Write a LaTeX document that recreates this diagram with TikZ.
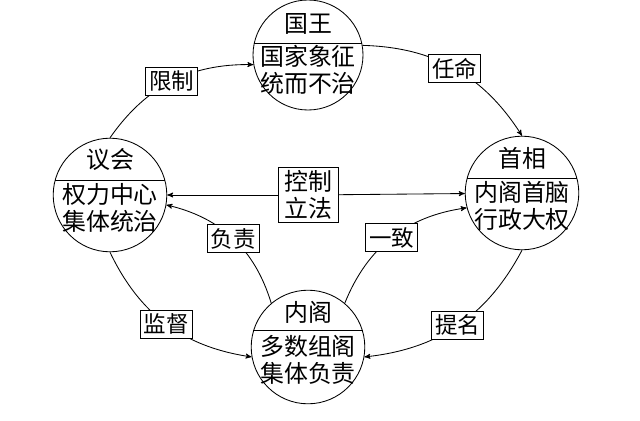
\documentclass[tikz,border=0pt]{standalone}
\usepackage{fontspec}
\setmainfont{Noto Sans CJK SC}
\usetikzlibrary{arrows}
\begin{document}
\begin{tikzpicture}[->,semithick,>=stealth',font=\Large]
    \tikzstyle{role}=[draw=black, circle, minimum size=2.84cm, inner sep=0pt, fill=none]
    \tikzstyle{lbl}=[draw=black, fill=white, inner sep=2.5pt, font=\fontsize{16}{18}\selectfont]
    \tikzstyle{txt}=[align=center, inner sep=0pt, font=\fontsize{17}{19}\selectfont, text=black]
    \useasboundingbox (0,0) rectangle (16,10.5);

    \node[role, minimum size=2.75cm] (king) at (7.7,9.125) {};
    \node[role] (parl)  at (2.75,5.625) {};
    \node[role] (pm)    at (13.05,5.675) {};
    \node[role] (cab)   at (7.7,1.825) {};

    % dividers
    \draw[-] (6.36,9.425) -- (9.04,9.425);
    \draw[-] (1.38,6.0) -- (4.12,6.0);
    \draw[-] (11.68,6.05) -- (14.42,6.05);
    \draw[-] (6.33,2.25) -- (9.07,2.25);

    \node[txt] (kingt) at (7.7,9.9)   {国王};
    \node[txt] (kingb) at (7.7,8.75)  {国家象征\\统而不治};
    \node[txt] (parlt) at (2.75,6.5)  {议会};
    \node[txt] (parlb) at (2.75,5.3)  {权力中心\\集体统治};
    \node[txt] (pmt)   at (13.05,6.55){首相};
    \node[txt] (pmb)   at (13.05,5.35){内阁首脑\\行政大权};
    \node[txt] (cabt)  at (7.7,2.7)   {内阁};
    \node[txt] (cabb)  at (7.7,1.5)   {多数组阁\\集体负责};

    \node[lbl, align=center, minimum width=1.5cm, minimum height=1.35cm,
          font=\fontsize{17}{19}\selectfont] (ctl) at (7.7,5.625) {控制\\立法};

    \path
     (parl.90)  edge[bend left=28]  node[lbl] {限制} (king.190)
     (king.10)  edge[bend left=28]  node[lbl] {任命} (pm.90)
     (pm.270)   edge[bend left=28]  node[lbl] {提名} (cab.-10)
     (parl.270) edge[bend right=28] node[lbl] {监督} (cab.190)
     (cab.130)  edge[bend right=30] node[lbl] {负责} (parl.-10)
     (cab.50)   edge[bend left=30]  node[lbl] {一致} (pm.-165)
     (ctl)      edge[] (parl)
     (ctl)      edge[] (pm)
     ;
\end{tikzpicture}
\end{document}
